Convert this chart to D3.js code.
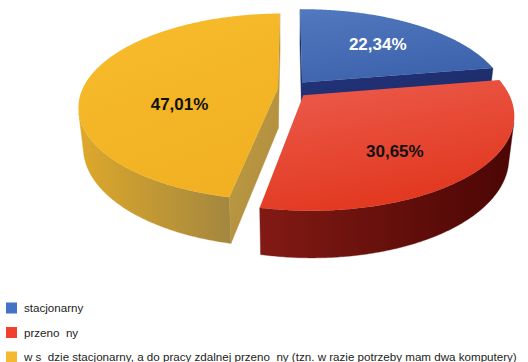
<!DOCTYPE html>
<html>
<head>
<meta charset="utf-8">
<script src="https://cdn.jsdelivr.net/npm/d3@7"></script>
<style>
  html, body { margin: 0; padding: 0; background: #ffffff; }
  svg { display: block; }
  text { font-family: "Liberation Sans", Arial, sans-serif; }
</style>
</head>
<body>
<svg id="chart" width="528" height="362"></svg>
<script>
// ---- data ----
const categories = [
  "stacjonarny",
  "przeno  ny",
  "w s  dzie stacjonarny, a do pracy zdalnej przeno  ny (tzn. w razie potrzeby mam dwa komputery)"
];
const values = [22.34, 30.65, 47.01];
const valueLabels = ["22,34%", "30,65%", "47,01%"];

// ---- style ----
const style = [
  { top: ["#5179bf", "#3d63ac"], wall: ["#2a3d86", "#1c2a62"], cut: ["#22337a", "#1b2a63"], label: "#ffffff", key: "#4472c4", nudge: [2, -4] },
  { top: ["#ec5d4f", "#e2381f"], wall: ["#821a14", "#4b0604"], cut: ["#7a1711", "#5a0b07"], label: "#111111", key: "#f0402e", nudge: [7, 6] },
  { top: ["#f7bc2d", "#f1b122"], wall: ["#dea82a", "#a3873f"], cut: ["#c49d3d", "#a88a42"], label: "#111111", key: "#f4b831", nudge: [-7, 3] }
];
const explodeBy = [0.095, 0.094, 0.061];

// ---- 3D perspective camera ----
const cam = { cx: 290, cy: 89, F: 897, D: 4.53, e: Math.asin(0.453), yaw: -0.08 };
const depth = 0.232;
const ce = Math.cos(cam.e), se = Math.sin(cam.e);
const cy_ = Math.cos(cam.yaw), sy_ = Math.sin(cam.yaw);
const X0 = cam.cx + cam.F * Math.tan(cam.yaw);
const C = [0, -cam.D * ce, cam.D * se];
function project(x, y, z) {
  const vx = x, vy = y + cam.D * ce, vz = z - cam.D * se;
  const yc = vy * se + vz * ce;
  const zc = vy * ce - vz * se;
  const xc2 = vx * cy_ - zc * sy_;
  const zc2 = vx * sy_ + zc * cy_;
  return [X0 + cam.F * xc2 / zc2, cam.cy - cam.F * yc / zc2];
}
function visible(n, p) {
  return n[0] * (C[0] - p[0]) + n[1] * (C[1] - p[1]) + n[2] * (C[2] - p[2]) > 0;
}

const svg = d3.select("#chart");
const defs = svg.append("defs");
const g = svg.append("g");

const pie = d3.pie().sort(null).startAngle(0).endAngle(2 * Math.PI);
const arcs = pie(values).map((d, i) => {
  const mid = (d.startAngle + d.endAngle) / 2;
  return { ...d, i, mid, ox: explodeBy[i] * Math.sin(mid), oy: explodeBy[i] * Math.cos(mid) };
});

function grad(id, colors, x1, y1, x2, y2) {
  const lg = defs.append("linearGradient").attr("id", id)
    .attr("x1", x1).attr("y1", y1).attr("x2", x2).attr("y2", y2);
  lg.append("stop").attr("offset", "0%").attr("stop-color", colors[0]);
  lg.append("stop").attr("offset", "100%").attr("stop-color", colors[1]);
  return "url(#" + id + ")";
}

const line = d3.line().curve(d3.curveLinearClosed);
const step = Math.PI / 360;

// back-to-front drawing order
const order = arcs.slice().sort((a, b) => (b.oy + 0.6 * Math.cos(b.mid)) - (a.oy + 0.6 * Math.cos(a.mid)));

order.forEach(a => {
  const s = style[a.i];
  const rim = (ang, z) => [a.ox + Math.sin(ang), a.oy + Math.cos(ang), z];
  const P = p => project(p[0], p[1], p[2]);
  const vTop = [a.ox, a.oy, 0], vBot = [a.ox, a.oy, -depth];
  const sg = g.append("g").attr("class", "slice");

  // outer wall: visible angular runs
  const angs = d3.range(a.startAngle, a.endAngle, step).concat([a.endAngle]);
  let runs = [], cur = [];
  angs.forEach(t => {
    const p = rim(t, 0);
    const vis = visible([Math.sin(t), Math.cos(t), 0], p);
    if (vis) cur.push(t); else if (cur.length) { runs.push(cur); cur = []; }
  });
  if (cur.length) runs.push(cur);
  const wallFill = grad("wall" + a.i, s.wall, "0", "0", "1", "0");
  runs.forEach(r => {
    if (r.length < 2) return;
    const pts = r.map(t => P(rim(t, 0))).concat(r.slice().reverse().map(t => P(rim(t, -depth))));
    sg.append("path").attr("d", line(pts)).attr("fill", wallFill)
      .attr("stroke", wallFill).attr("stroke-width", 0.4);
  });

  // radial cut faces
  const cutFill = grad("cut" + a.i, s.cut, "0", "0", "1", "1");
  [[a.startAngle, [-Math.cos(a.startAngle), Math.sin(a.startAngle), 0]],
   [a.endAngle, [Math.cos(a.endAngle), -Math.sin(a.endAngle), 0]]].forEach(([t, n]) => {
    if (!visible(n, vTop)) return;
    const pts = [P(vTop), P(rim(t, 0)), P(rim(t, -depth)), P(vBot)];
    sg.append("path").attr("d", line(pts)).attr("fill", cutFill)
      .attr("stroke", cutFill).attr("stroke-width", 0.4);
  });

  // top face
  const topPts = [P(vTop)].concat(angs.map(t => P(rim(t, 0))));
  sg.append("path").attr("d", line(topPts))
    .attr("fill", grad("top" + a.i, s.top, "0", "0", "0.4", "1"));
  a.centroid = d3.polygonCentroid(topPts);
});

// value labels
g.selectAll("text.val").data(arcs).join("text")
  .attr("class", "val")
  .attr("x", d => d.centroid[0] + style[d.i].nudge[0])
  .attr("y", d => d.centroid[1] + style[d.i].nudge[1])
  .attr("dy", "0.36em")
  .attr("text-anchor", "middle")
  .attr("font-size", 17)
  .attr("font-weight", "bold")
  .attr("fill", d => style[d.i].label)
  .text(d => valueLabels[d.i]);

// legend
const ly = d3.scalePoint().domain(d3.range(categories.length)).range([308, 357]);
const leg = svg.append("g").selectAll("g").data(categories).join("g")
  .attr("transform", (d, i) => `translate(6,${ly(i)})`);
leg.append("rect").attr("x", 0).attr("y", -5.5).attr("width", 11).attr("height", 11)
  .attr("fill", (d, i) => style[i].key);
leg.append("text").attr("x", 18).attr("y", 0).attr("dy", "0.35em")
  .attr("font-size", 11.6).attr("fill", "#222")
  .style("white-space", "pre")
  .text(d => d);
</script>
</body>
</html>
